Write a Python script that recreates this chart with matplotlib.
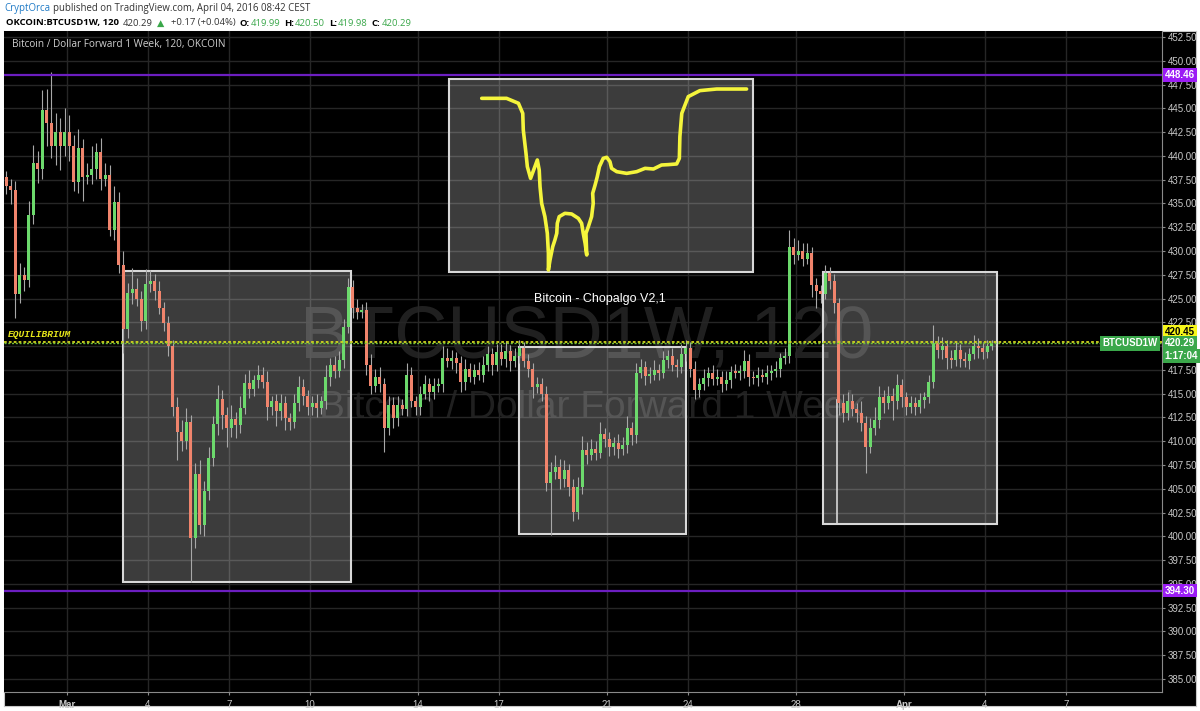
import matplotlib.pyplot as plt
from matplotlib.patches import Rectangle
import numpy as np

# ---------------------------
# data (days counted from Mar 1 00:00, 4h candles)
# ---------------------------
t_start = -2.333          # Feb 27 16:00
first_open = 437.8

closes = [
    436.8, 436.4,                                   # Feb 27
    425.5, 427.5, 427.0, 433.8, 439.3, 438.6,       # Feb 28
    444.8, 443.5, 441.0, 442.5, 441.0, 442.5,       # Feb 29
    441.0, 437.3, 440.8, 437.8, 438.0, 438.6,       # Mar 1
    440.4, 437.6, 438.0, 432.2, 435.2, 428.5,       # Mar 2
    421.8, 425.6, 426.0, 425.0, 422.6, 426.5,       # Mar 3
    426.8, 425.8, 424.0, 422.4, 420.0, 413.6,       # Mar 4
    411.0, 410.0, 412.0, 399.8, 406.5, 401.2,       # Mar 5
    404.8, 408.2, 411.8, 414.4, 412.8, 411.4,       # Mar 6
    412.3, 411.7, 413.5, 416.1, 415.5, 416.4,       # Mar 7
    417.0, 416.2, 413.6, 414.2, 413.2, 414.0,       # Mar 8
    412.4, 412.0, 414.0, 415.7, 414.8, 413.6,       # Mar 9
    414.0, 413.5, 414.2, 416.8, 418.0, 417.4,       # Mar 10
    418.5, 422.0, 426.2, 424.0, 423.6, 423.8,       # Mar 11
    418.0, 415.8, 416.8, 416.0, 411.4, 413.8,       # Mar 12
    412.4, 413.8, 413.4, 417.0, 414.2, 413.6,       # Mar 13
    415.0, 416.0, 415.2, 415.8, 416.0, 418.8,       # Mar 14
    418.4, 418.8, 418.2, 416.2, 417.6, 416.8,       # Mar 15
    417.5, 417.0, 418.0, 419.2, 418.0, 419.4,       # Mar 16
    418.6, 419.5, 418.4, 419.0, 419.8, 418.4,       # Mar 17
    417.6, 415.7, 416.0, 415.0, 405.6, 406.8,       # Mar 18
    407.3, 406.0, 407.0, 405.2, 402.6, 405.2,       # Mar 19
    409.1, 408.6, 409.2, 408.8, 410.8, 410.2,       # Mar 20
    409.4, 409.8, 409.2, 409.6, 411.4, 410.6,       # Mar 21
    417.2, 417.8, 416.9, 417.0, 417.5, 417.2,       # Mar 22
    418.5, 419.0, 418.0, 417.8, 419.2, 419.8,       # Mar 23
    417.6, 415.4, 416.0, 416.6, 417.2, 416.5,       # Mar 24
    416.8, 416.0, 416.4, 417.3, 417.2, 417.4,       # Mar 25
    418.4, 416.8, 416.6, 417.0, 416.8, 417.2,       # Mar 26
    417.4, 417.6, 418.7, 419.0, 430.4, 429.6,       # Mar 27
    430.0, 429.2, 429.8, 426.4, 425.8, 425.5,       # Mar 28
    427.7, 426.8, 424.5, 414.0, 413.0, 414.2,       # Mar 29
    413.4, 413.0, 411.9, 409.4, 411.4, 412.2,       # Mar 30
    414.6, 414.0, 414.8, 414.2, 415.9, 414.6,       # Mar 31
    413.6, 414.0, 413.6, 414.3, 414.6, 416.2,       # Apr 1
    420.3, 419.6, 420.0, 418.8, 418.5, 419.6,       # Apr 2
    418.6, 418.4, 419.2, 420.0, 419.8, 419.4,       # Apr 3
    420.0, 420.29,                                  # Apr 4
]

# wick length above / below the candle body
hi_wick = [
    0.6, 0.8,
    1.0, 1.2, 0.8, 1.5, 1.8, 1.2,
    2.1, 2.2, 5.3, 2.0, 1.5, 2.5,
    1.8, 1.2, 2.0, 1.0, 1.2, 2.4,
    1.0, 1.5, 1.2, 1.0, 1.6, 1.0,
    1.5, 1.0, 2.2, 1.2, 0.8, 1.6,
    1.2, 0.8, 1.0, 0.6, 0.8, 0.6,
    1.0, 1.2, 1.5, 0.8, 1.2, 1.5,
    1.0, 1.2, 0.8, 1.5, 1.0, 0.8,
    1.5, 0.8, 1.2, 1.0, 1.4, 0.6,
    1.0, 0.8, 1.2, 0.6, 0.8, 1.0,
    0.8, 0.6, 1.0, 1.2, 0.8, 0.6,
    0.8, 1.0, 0.6, 1.2, 0.8, 1.0,
    1.0, 0.8, 1.0, 0.8, 1.0, 0.6,
    0.8, 1.2, 0.8, 1.0, 0.6, 1.0,
    0.8, 1.0, 0.6, 1.2, 0.8, 0.6,
    0.8, 1.0, 0.6, 0.8, 0.6, 1.2,
    1.0, 0.8, 0.6, 0.8, 1.0, 0.6,
    0.6, 0.8, 1.0, 0.8, 0.6, 0.8,
    0.8, 1.0, 0.6, 0.8, 0.8, 0.6,
    0.8, 0.6, 0.8, 0.6, 0.8, 1.0,
    1.2, 0.8, 1.0, 0.6, 0.8, 1.0,
    1.4, 0.8, 1.0, 0.8, 1.2, 0.6,
    0.8, 0.6, 1.0, 0.8, 1.2, 0.6,
    1.0, 0.8, 0.6, 0.8, 1.0, 0.6,
    1.0, 0.6, 0.8, 0.6, 1.0, 0.8,
    0.6, 0.8, 0.6, 1.0, 0.6, 0.8,
    0.8, 0.6, 1.0, 0.6, 0.8, 0.6,
    1.2, 0.8, 0.6, 0.8, 0.6, 0.8,
    0.6, 0.8, 0.6, 0.8, 1.8, 1.0,
    1.2, 0.8, 1.0, 0.6, 0.8, 0.6,
    0.8, 0.6, 0.8, 0.6, 1.0, 1.0,
    0.8, 0.6, 1.2, 0.8, 1.0, 1.4,
    1.2, 0.8, 1.0, 0.8, 1.2, 0.6,
    0.6, 0.8, 0.6, 0.8, 0.6, 0.8,
    1.9, 0.8, 1.0, 0.6, 0.8, 0.8,
    0.6, 0.8, 0.6, 1.2, 0.8, 0.6,
    0.6, 0.4,
]
lo_wick = [
    0.8, 1.5,
    2.5, 1.0, 1.2, 0.8, 1.0, 1.5,
    1.0, 2.5, 1.2, 2.0, 2.5, 1.0,
    1.5, 1.0, 1.2, 2.5, 0.8, 1.0,
    1.0, 1.2, 0.8, 0.6, 1.0, 0.8,
    2.5, 1.0, 1.2, 0.8, 1.0, 0.8,
    0.8, 1.0, 0.6, 0.8, 1.0, 1.0,
    3.0, 1.0, 0.8, 4.6, 1.0, 1.0,
    1.2, 1.0, 0.8, 1.2, 1.5, 2.0,
    1.0, 1.4, 0.8, 0.6, 1.0, 0.8,
    0.8, 0.6, 1.4, 0.8, 1.6, 1.0,
    1.2, 0.8, 0.6, 0.8, 1.0, 0.8,
    0.8, 1.0, 0.6, 0.8, 1.0, 0.8,
    0.6, 0.8, 0.6, 1.0, 0.8, 0.6,
    1.0, 0.8, 0.6, 0.8, 2.5, 0.8,
    1.0, 0.8, 0.6, 0.8, 0.6, 0.8,
    0.8, 0.6, 1.0, 0.8, 0.6, 0.8,
    0.6, 0.8, 1.0, 1.0, 0.8, 0.6,
    0.8, 0.6, 0.8, 0.6, 1.0, 0.6,
    0.6, 0.8, 1.0, 0.6, 0.8, 0.6,
    0.8, 1.2, 0.6, 0.8, 0.8, 5.5,
    0.8, 1.0, 0.8, 1.0, 1.0, 0.8,
    0.8, 1.0, 0.6, 0.8, 0.6, 0.8,
    1.0, 0.8, 1.0, 0.6, 0.8, 1.0,
    0.8, 0.6, 1.0, 0.8, 0.6, 0.8,
    0.6, 0.8, 0.6, 1.0, 0.6, 0.8,
    0.8, 1.0, 0.8, 0.6, 0.8, 0.6,
    0.6, 0.8, 0.6, 0.8, 0.6, 0.8,
    0.8, 1.0, 0.6, 0.8, 0.6, 0.8,
    0.8, 0.6, 0.8, 0.6, 0.8, 1.0,
    0.6, 0.8, 0.6, 1.2, 1.8, 1.0,
    0.6, 0.8, 1.0, 1.2, 1.0, 0.8,
    0.8, 1.0, 0.8, 2.7, 0.6, 0.8,
    0.8, 1.0, 0.6, 2.0, 0.8, 1.0,
    0.8, 0.6, 0.8, 0.6, 0.8, 0.6,
    0.6, 0.8, 1.0, 1.2, 0.8, 0.6,
    0.8, 0.6, 0.8, 0.6, 1.0, 0.8,
    0.6, 0.4,
]

# price levels
resistance = 448.46
support = 394.30
equilibrium = 420.45
last_price = 420.29

# drawn rectangles: (day0, day1, price_low, price_high)
boxes = [
    (2.07, 10.52, 395.2, 427.9),
    (16.74, 22.93, 400.2, 419.9),
    (28.0, 34.44, 401.3, 427.8),
    (14.15, 25.41, 427.8, 448.1),
]
marker_line = (28.52, 401.3, 414.3)

# hand drawn yellow curve inside the top box
sketch_day = [15.36, 16.28, 16.72, 16.88, 16.90, 17.00, 17.05, 17.17, 17.33, 17.42,
              17.49, 17.52, 17.58, 17.70, 17.79, 17.83, 17.83, 17.89, 17.99, 18.07,
              18.14, 18.16, 18.23, 18.44, 18.69, 18.94, 19.06, 19.12, 19.19, 19.25,
              19.22, 19.31, 19.43, 19.49, 19.47, 19.56, 19.64, 19.72, 19.86, 19.99,
              20.11, 20.17, 20.36, 20.73, 21.10, 21.41, 21.72, 22.02, 22.27, 22.58,
              22.68, 22.70, 22.77, 23.01, 23.44, 24.06, 25.17]
sketch_price = [446.05, 446.05, 445.53, 444.47, 442.72, 440.27, 438.87, 437.64, 438.87, 439.57,
                438.51, 436.76, 435.01, 433.61, 431.86, 429.75, 428.0, 429.05, 430.45, 431.15,
                431.86, 432.91, 433.61, 433.96, 433.89, 433.43, 432.91, 431.86, 430.80, 429.58,
                431.86, 432.56, 433.61, 435.01, 436.06, 436.94, 437.81, 438.87, 439.74, 439.85,
                439.39, 438.69, 438.34, 438.16, 438.34, 438.69, 438.62, 439.04, 439.08, 439.15,
                439.74, 442.02, 444.47, 446.23, 446.86, 447.03, 447.03]

tick_days = [0, 3, 6, 9, 13, 16, 20, 23, 27, 31, 34, 37]
tick_names = ["Mar", "4", "7", "10", "14", "17", "21", "24", "28", "Apr", "4", "7"]
price_ticks = np.arange(385.0, 452.51, 2.5)

# header pieces: (text, colour, bold)
header_parts = [
    ("CryptOrca", "#1f7ac6", False),
    ("published on TradingView.com, April 04, 2016 08:42 CEST", "#333333", False),
]
legend_parts = [
    ("OKCOIN:BTCUSD1W, 120", "black", True),
    ("420.29", "#333333", False),
    ("\u25b2 ", "#3aa74a", False),
    ("+0.17 (+0.04%)", "#333333", False),
    ("O:", "black", True), ("419.99", "#3aa74a", False),
    ("H:", "black", True), ("420.50", "#3aa74a", False),
    ("L:", "black", True), ("419.98", "#3aa74a", False),
    ("C:", "black", True), ("420.29", "#3aa74a", False),
]

# ---------------------------
# candles
# ---------------------------
closes = np.array(closes)
opens = np.concatenate([[first_open], closes[:-1]])
body_top = np.maximum(opens, closes)
body_bot = np.minimum(opens, closes)
highs = body_top + np.array(hi_wick)
lows = body_bot - np.array(lo_wick)
step = 1 / 6
t = t_start + step * np.arange(len(closes)) + step / 2
up = closes >= opens

GREEN = "#6cd96c"
RED = "#f0846c"
AXFONT = "Liberation Sans"

fig = plt.figure(figsize=(12, 7.11), dpi=100)
fig.patch.set_facecolor("white")

bg = fig.add_axes([4 / 1200, 5 / 711, 1192 / 1200, 675 / 711])
bg.set_facecolor("black")
bg.set_xticks([])
bg.set_yticks([])
for s in bg.spines.values():
    s.set_color("#c8c8c8")

ax = fig.add_axes([4 / 1200, 19 / 711, 1158 / 1200, 661 / 711])
ax.set_facecolor("black")
ax.set_xlim(-2.333, 40.556)
ax.set_ylim(383.63, 453.13)

# 420.00 sits fully under the last price badge, as on the original
ax.set_yticks(price_ticks)
ax.set_yticklabels(["" if p == 420.0 else f"{p:.2f}" for p in price_ticks], family=AXFONT)
ax.yaxis.tick_right()
ax.set_xticks(tick_days)
ax.set_xticklabels(tick_names, family=AXFONT)
for lab in ax.get_xticklabels():
    if lab.get_text() in ("Mar", "Apr"):
        lab.set_fontweight("bold")
ax.tick_params(colors="#8a8a8a", labelcolor="#c8c8c8", labelsize=7, length=2.5, pad=1.5)
ax.tick_params(axis="x", pad=3)
ax.grid(color="#262626", lw=1, zorder=0)
ax.set_axisbelow(True)
for side in ("top", "left"):
    ax.spines[side].set_visible(False)
for side in ("right", "bottom"):
    ax.spines[side].set_color("#8a8a8a")

# watermark
ax.text(0.503, 0.535, "BTCUSD1W, 120", transform=ax.transAxes, ha="center", va="center",
        fontsize=53, family="Liberation Sans", color="white", alpha=0.13, zorder=0.5)
ax.text(0.508, 0.43, "Bitcoin / Dollar Forward 1 Week", transform=ax.transAxes,
        ha="center", va="center", fontsize=28, family="Liberation Sans",
        color="white", alpha=0.13, zorder=0.5)

# boxes
for d0, d1, p0, p1 in boxes:
    ax.add_patch(Rectangle((d0, p0), d1 - d0, p1 - p0, facecolor=(1, 1, 1, 0.24),
                           edgecolor="#d8d8d8", lw=1.5, zorder=1))
ax.plot([marker_line[0]] * 2, marker_line[1:], color="#d8d8d8", lw=1.2, zorder=1)

# candles
ax.vlines(t, lows, highs, color="#a8a8a8", lw=0.8, zorder=2)
heights = np.maximum(body_top - body_bot, 0.15)
ax.bar(t[up], heights[up], bottom=body_bot[up], width=0.1, color=GREEN, zorder=3)
ax.bar(t[~up], heights[~up], bottom=body_bot[~up], width=0.1, color=RED, zorder=3)

# level lines
ax.axhline(resistance, color="#6c1ec0", lw=1.6, zorder=4)
ax.axhline(support, color="#6c1ec0", lw=1.6, zorder=4)
ax.axhline(equilibrium, color="#d6d61c", lw=1.3, ls=(0, (1.5, 1.2)), zorder=4)
ax.axhline(last_price, color="#6fbf3a", lw=1.0, ls=(0, (1.5, 1.2)), zorder=4)
ax.text(-2.2, equilibrium + 0.25, "EQUILIBRIUM", fontsize=6.8, family="Liberation Mono",
        style="italic", fontweight="bold", color="#e8e81a", va="bottom", zorder=5)

# yellow sketch
ax.plot(sketch_day, sketch_price, color="#f5f53c", lw=2.6, solid_capstyle="round",
        solid_joinstyle="round", zorder=5)
ax.text(19.74, 425.0, "Bitcoin - Chopalgo V2,1", fontsize=9, family="Liberation Sans",
        color="white", ha="center", va="center", zorder=5)

# chart title
ax.text(0.007, 0.988, "Bitcoin / Dollar Forward 1 Week, 120, OKCOIN", transform=ax.transAxes,
        fontsize=7.2, family="Open Sans", color="#d0d0d0", va="top", zorder=5)

# price badges on the right axis
def badge(y, txt, fc, tc="white"):
    ax.annotate(txt, xy=(1.0, y), xycoords=("axes fraction", "data"), xytext=(2, 0),
                textcoords="offset points", ha="left", va="center", fontsize=7,
                family=AXFONT, fontweight="bold", color=tc, zorder=10,
                annotation_clip=False,
                bbox=dict(boxstyle="square,pad=0.2", fc=fc, ec="none"))

badge(resistance, "448.46", "#9b1cf5")
badge(support, "394.30", "#9b1cf5")
badge(equilibrium + 1.05, "420.45", "#f7f71a", tc="black")
badge(last_price, "420.29", "#3aa74a")
badge(last_price - 1.3, "1:17:04", "#3aa74a")
ax.annotate("BTCUSD1W", xy=(1.0, last_price), xycoords=("axes fraction", "data"),
            xytext=(-3, 0), textcoords="offset points", ha="right", va="center",
            fontsize=7, family=AXFONT, fontweight="bold", color="white", zorder=10,
            annotation_clip=False,
            bbox=dict(boxstyle="square,pad=0.25", fc="#3aa74a", ec="none"))

# header, laid out piece by piece
HFONT = ["Open Sans", "DejaVu Sans"]
renderer = fig.canvas.get_renderer()

def chain(parts, x, y, size, gap):
    for txt, col, bold in parts:
        tt = fig.text(x / 1200, 1 - y / 711, txt, fontsize=size, family=HFONT, color=col,
                      fontweight="bold" if bold else "normal", va="center")
        w = tt.get_window_extent(renderer).width
        x += w + (1 if txt.endswith(":") else gap)

chain(header_parts, 4, 8, 6.9, 3)
chain(legend_parts, 6, 23, 6.8, 4)

fig.savefig("out.png", dpi=100, facecolor=fig.get_facecolor())
